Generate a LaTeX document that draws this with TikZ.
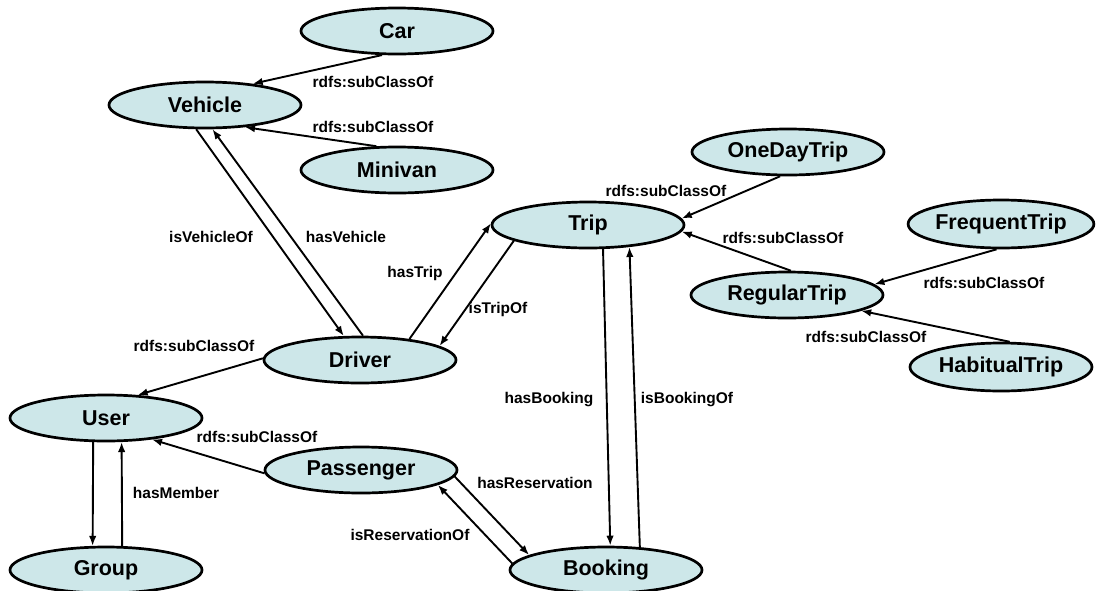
\documentclass[tikz,border=0pt]{standalone}
\usepackage{fontspec}
\setmainfont{Liberation Sans}
\usetikzlibrary{shapes.geometric,arrows.meta}
\definecolor{nodefill}{RGB}{205,231,233}
\begin{document}
\begin{tikzpicture}[x=1pt,y=-1pt,
  cls/.style={ellipse,draw=black,line width=2.7pt,fill=nodefill,minimum width=192pt,minimum height=46pt,inner sep=0pt,font=\bfseries\fontsize{21.5}{24}\selectfont},
  clsw/.style={cls,minimum width=182pt,minimum height=48pt},
  lbl/.style={font=\bfseries\fontsize{15.5}{18}\selectfont,inner sep=0pt},
  arr/.style={line width=1.9pt,-{Latex[length=10pt,width=7.5pt]}}]
\useasboundingbox (0,0) rectangle (1096,590);
\fill[white] (0,0) rectangle (1096,590);

% classes
\node[cls] (car) at (397,31) {Car};
\node[cls] (vehicle) at (205,105) {Vehicle};
\node[cls] (minivan) at (397,170) {Minivan};
\node[cls] (onedaytrip) at (788,152) {OneDayTrip};
\node[cls] (trip) at (588,225) {Trip};
\node[clsw] (frequenttrip) at (1001,224) {FrequentTrip};
\node[cls] (regulartrip) at (787,295) {RegularTrip};
\node[cls] (driver) at (360,360) {Driver};
\node[clsw] (habitualtrip) at (1001,367) {HabitualTrip};
\node[cls] (user) at (106,418) {User};
\node[cls] (passenger) at (361,470) {Passenger};
\node[cls] (group) at (106,570) {Group};
\node[cls] (booking) at (606,570) {Booking};

% connectors
\draw[arr] (car.238) -- (vehicle.24);
\draw[arr] (minivan.131) -- (vehicle.-29);
\draw[arr] (vehicle.250) -- (driver.124);
\draw[arr] (driver.83) -- (vehicle.-73);
\draw[arr] (driver.179) -- (user.36);
\draw[arr] (passenger.182) -- (user.-25);
\draw[arr] (user.242) -- (group.119);
\draw[arr] (group.56) -- (user.-57);
\draw[arr] (trip.-58) -- (booking.80);
\draw[arr] (booking.34) -- (trip.-28);
\draw[arr] (driver.23) -- (trip.179);
\draw[arr] (trip.192) -- (driver.10);
\draw[arr] (onedaytrip.252) -- (trip.4);
\draw[arr] (regulartrip.81) -- (trip.-4);
\draw[arr] (frequenttrip.260) -- (regulartrip.7);
\draw[arr] (habitualtrip.71) -- (regulartrip.-12);
\draw[arr] (passenger.-4) -- (booking.169);
\draw[arr] (booking.176) -- (passenger.-11);

% labels
\node[lbl] (l1) at (373,82) {rdfs:subClassOf};
\node[lbl] (l2) at (373,127) {rdfs:subClassOf};
\node[lbl] (l3) at (211,237) {isVehicleOf};
\node[lbl] (l4) at (346,237) {hasVehicle};
\node[lbl] (l5) at (415,273) {hasTrip};
\node[lbl] (l6) at (498,309) {isTripOf};
\node[lbl] (l7) at (666,191) {rdfs:subClassOf};
\node[lbl] (l8) at (783,238) {rdfs:subClassOf};
\node[lbl] (l9) at (984,283) {rdfs:subClassOf};
\node[lbl] (l10) at (866,337) {rdfs:subClassOf};
\node[lbl] (l11) at (194,346) {rdfs:subClassOf};
\node[lbl] (l12) at (257,437) {rdfs:subClassOf};
\node[lbl] (l13) at (176,493) {hasMember};
\node[lbl] (l14) at (549,400) {hasBooking};
\node[lbl] (l15) at (687,400) {isBookingOf};
\node[lbl] (l16) at (535,483) {hasReservation};
\node[lbl] (l17) at (410,535) {isReservationOf};
\end{tikzpicture}
\end{document}
